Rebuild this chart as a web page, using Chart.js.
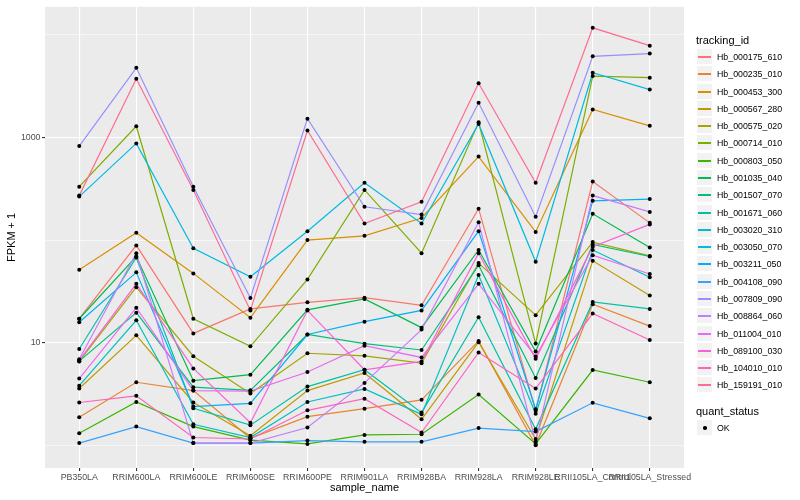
<!DOCTYPE html>
<html>
<head>
<meta charset="utf-8">
<title>FPKM + 1 by sample</title>
<script src="https://cdn.jsdelivr.net/npm/chart.js@4.4.1/dist/chart.umd.min.js"></script>
<style>
  body { margin: 0; background: #ffffff; font-family: "Liberation Sans", Arial, sans-serif; }
  #wrap { position: relative; width: 800px; height: 500px; }
  #legend { position: absolute; left: 696px; top: 0; width: 104px; height: 500px; }
  .ttl { position: absolute; left: 0; font-size: 11px; line-height: 13px; color: #000; white-space: nowrap; }
  .row { position: absolute; left: 0; height: 17px; display: flex; align-items: center; white-space: nowrap; }
  .key { position: relative; width: 17px; height: 17px; background: #f2f2f2; box-sizing: border-box; border: 1px solid #ffffff; }
  .key i { position: absolute; left: 1px; right: 1px; top: 7px; height: 2px; }
  .key b { position: absolute; left: 6px; top: 6px; width: 3.5px; height: 3.5px; border-radius: 50%; background: #000; }
  .lab { font-size: 8.8px; margin-left: 4px; color: #000; }
</style>
</head>
<body>
<div id="wrap">
  <canvas id="chart" width="800" height="500"></canvas>
  <div id="legend"></div>
</div>
<script>
// categories on the x axis
const sampleNames = ["PB350LA", "RRIM600LA", "RRIM600LE", "RRIM600SE", "RRIM600PE", "RRIM901LA",
                     "RRIM928BA", "RRIM928LA", "RRIM928LE", "RRII105LA_Control", "RRII105LA_Stressed"];

const trackingIds = ["Hb_000175_610", "Hb_000235_010", "Hb_000453_300", "Hb_000567_280", "Hb_000575_020",
                     "Hb_000714_010", "Hb_000803_050", "Hb_001035_040", "Hb_001507_070", "Hb_001671_060",
                     "Hb_003020_310", "Hb_003050_070", "Hb_003211_050", "Hb_004108_090", "Hb_007809_090",
                     "Hb_008864_060", "Hb_011004_010", "Hb_089100_030", "Hb_104010_010", "Hb_159191_010"];

// ggplot default hue palette for 20 groups
const lineColors = ["#F8766D", "#EA8331", "#D89000", "#C09B00", "#A3A500", "#7CAE00", "#39B600", "#00BB4E",
                    "#00BF7D", "#00C1A3", "#00BFC4", "#00BAE0", "#00B0F6", "#35A2FF", "#9590FF", "#C77CFF",
                    "#E76BF3", "#FA62DB", "#FF62BC", "#FF6C91"];

// FPKM + 1 per sample
const hb000175_610 = [17.1, 88.7, 12.3, 21.3, 24.7, 27.4, 23.1, 202, 2.16, 371, 147];
const hb000235_010 = [1.87, 4.11, 3.41, 1.17, 1.9, 2.27, 2.77, 10.4, 1.0, 23.7, 14.5];
const hb000453_300 = [51.3, 118, 47.3, 17.5, 100, 110, 164, 651, 120, 1875, 1297];
const hb000567_280 = [3.57, 11.8, 2.61, 1.24, 3.41, 5.06, 1.79, 10.1, 1.15, 62.7, 28.8];
const hb000575_020 = [6.56, 34.7, 7.38, 3.19, 7.88, 7.43, 6.31, 59.6, 18.5, 95.5, 70];
const hb000714_010 = [331, 1285, 17.1, 9.2, 41.3, 308, 74.3, 1406, 9.8, 3965, 3820];
const hb000803_050 = [1.31, 2.64, 1.52, 1.12, 1.03, 1.26, 1.28, 3.12, 1.03, 5.41, 4.11];
const hb001035_040 = [17.1, 69.1, 4.26, 4.87, 20.9, 26.7, 14.0, 80, 8.19, 180, 84.4];
const hb001507_070 = [6.6, 19.6, 3.68, 3.43, 12.0, 9.78, 8.48, 56.9, 4.52, 90.7, 69.1];
const hb001671_060 = [8.67, 67.6, 2.29, 1.57, 3.73, 5.44, 2.08, 17.7, 1.43, 24.9, 21.3];
const hb003020_310 = [3.81, 16.5, 1.6, 1.19, 2.64, 3.54, 2.0, 45.6, 2.03, 80, 43.4];
const hb003050_070 = [265, 875, 83, 43.9, 122, 362, 145, 1355, 61.3, 4270, 2925];
const hb003211_050 = [15.8, 48.4, 2.38, 2.56, 12.0, 16.0, 20.6, 122, 2.24, 241, 251];
const hb004108_090 = [1.05, 1.52, 1.05, 1.05, 1.11, 1.08, 1.08, 1.47, 1.36, 2.59, 1.83];
const hb007809_090 = [824, 4770, 331, 27.2, 1525, 211, 177, 2176, 169, 6180, 6560];
const hb008864_060 = [6.9, 74.3, 1.05, 1.05, 1.49, 4.05, 13.4, 149, 1.08, 271, 188];
const hb011004_010 = [4.46, 21.9, 3.41, 3.37, 5.17, 9.35, 7.17, 37.4, 7.33, 71.1, 46.7];
const hb089100_030 = [6.7, 37.4, 5.61, 1.66, 20.6, 5.44, 6.56, 74.3, 6.95, 86.2, 142];
const hb104010_010 = [2.61, 3.03, 1.19, 1.15, 2.19, 2.84, 1.33, 8.01, 3.57, 19.2, 10.6];
const hb159191_010 = [271, 3735, 308, 20.6, 1169, 145, 236, 3373, 362, 11700, 7840];

const seriesValues = [hb000175_610, hb000235_010, hb000453_300, hb000567_280, hb000575_020,
                      hb000714_010, hb000803_050, hb001035_040, hb001507_070, hb001671_060,
                      hb003020_310, hb003050_070, hb003211_050, hb004108_090, hb007809_090,
                      hb008864_060, hb011004_010, hb089100_030, hb104010_010, hb159191_010];

// log10 axis breaks
const yMajorTicks = [10, 1000];
const yMinorTicks = [1, 100, 10000];

const FONT = "'Liberation Sans', Arial, sans-serif";
Chart.defaults.font.family = FONT;

// grey panel behind the grid, like theme_gray
const panelBg = {
    id: 'panelBg',
    beforeDraw(chart) {
        const { ctx, chartArea: a } = chart;
        ctx.save();
        ctx.fillStyle = '#EBEBEB';
        ctx.fillRect(a.left, a.top, a.right - a.left, a.bottom - a.top);
        ctx.restore();
    }
};

// one line per gene; later genes sit on top, as in ggplot
const lineSets = trackingIds.map((id, i) => ({
    label: id,
    data: seriesValues[i].map((v, j) => ({ x: j, y: v })),
    borderColor: lineColors[i],
    borderWidth: 1.2,
    pointRadius: 0,
    tension: 0,
    fill: false,
    order: trackingIds.length - i
}));

// quant_status = OK points drawn over every line
const pointSet = {
    label: 'OK',
    data: seriesValues.flatMap(vals => vals.map((v, j) => ({ x: j, y: v }))),
    showLine: false,
    pointRadius: 2,
    pointBackgroundColor: '#000000',
    pointBorderWidth: 0,
    order: 0
};

const isMajor = v => yMajorTicks.includes(v);

new Chart(document.getElementById('chart').getContext('2d'), {
    type: 'line',
    data: { datasets: lineSets.concat([pointSet]) },
    plugins: [panelBg],
    options: {
        responsive: false,
        animation: false,
        layout: { padding: { top: 5, right: 116, bottom: 0, left: 0 } },
        plugins: { legend: { display: false }, tooltip: { enabled: false } },
        scales: {
            x: {
                type: 'linear',
                min: -0.6,
                max: 10.6,
                afterBuildTicks: s => { s.ticks = sampleNames.map((_, i) => ({ value: i })); },
                afterFit: s => { s.height = 32; },
                ticks: {
                    callback: v => sampleNames[v],
                    autoSkip: false, maxRotation: 0, minRotation: 0,
                    color: '#4D4D4D', font: { size: 8.8 }, padding: 1
                },
                grid: { color: '#ffffff', lineWidth: 1.1, tickColor: '#333333', tickWidth: 1.1, tickLength: 3 },
                border: { display: false },
                title: { display: true, text: 'sample_name', color: '#000', font: { size: 11 }, padding: { top: 0, bottom: 5 } }
            },
            y: {
                type: 'logarithmic',
                min: 0.6405,
                max: 18770,
                afterBuildTicks: s => {
                    s.ticks = yMinorTicks.concat(yMajorTicks).sort((a, b) => a - b)
                        .map(v => ({ value: v }));
                },
                afterFit: s => { s.width = 45; },
                ticks: {
                    callback: v => isMajor(v) ? String(v) : '',
                    color: '#4D4D4D', font: { size: 8.8 }, padding: 1.5
                },
                grid: {
                    color: '#ffffff',
                    lineWidth: c => isMajor(c.tick.value) ? 1.1 : 0.55,
                    tickColor: c => isMajor(c.tick.value) ? '#333333' : 'rgba(0,0,0,0)',
                    tickWidth: 1.1,
                    tickLength: 3
                },
                border: { display: false },
                title: { display: true, text: 'FPKM + 1', color: '#000', font: { size: 11 }, padding: { top: 5, bottom: 0 } }
            }
        }
    }
});

// legend on the right, built as html text
const legend = document.getElementById('legend');
const ROW = 17.28;
let html = '<div class="ttl" style="top:33.5px">tracking_id</div>';
trackingIds.forEach((id, i) => {
    const top = Math.round(48.06 + i * ROW);
    html += `<div class="row" style="top:${top}px"><span class="key"><i style="background:${lineColors[i]}"></i></span><span class="lab">${id}</span></div>`;
});
html += '<div class="ttl" style="top:405px">quant_status</div>';
html += `<div class="row" style="top:419px"><span class="key"><b></b></span><span class="lab">OK</span></div>`;
legend.innerHTML = html;
</script>
</body>
</html>
